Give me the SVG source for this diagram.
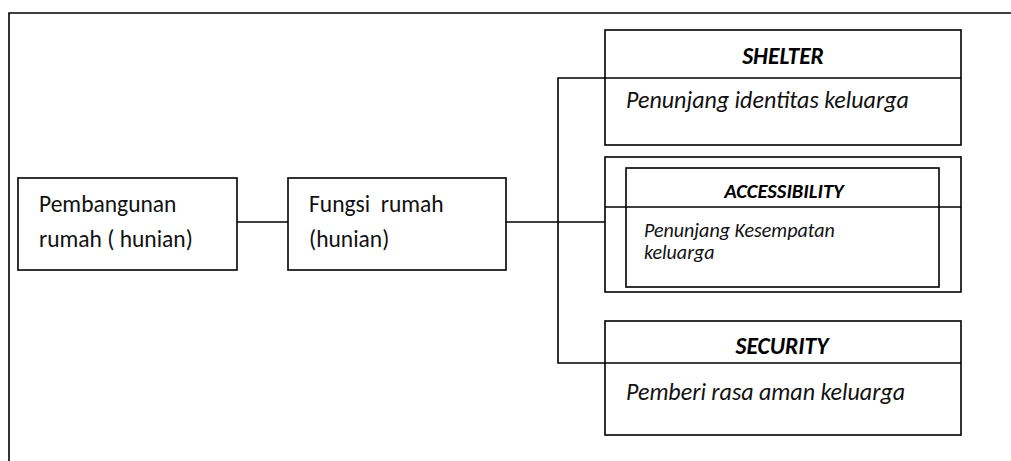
<svg xmlns="http://www.w3.org/2000/svg" width="1011" height="461" viewBox="0 0 1011 461">
  <style>
    .box { fill: none; stroke: #000; stroke-width: 1.6; }
    .ln { fill: none; stroke: #000; stroke-width: 1.6; }
    .t { font-family: Carlito, Lato, "Open Sans", sans-serif; font-size: 23.5px; fill: #111; }
    .b { font-family: Carlito, Lato, "Open Sans", sans-serif; font-size: 23.5px; font-style: italic; font-weight: bold; fill: #000; text-anchor: middle; }
    .bs { font-size: 20.5px; }
    .i { font-family: Carlito, Lato, "Open Sans", sans-serif; font-size: 24px; font-style: italic; fill: #111; }
    .is { font-size: 20px; }
  </style>
  <rect width="1011" height="461" fill="#fff"/>
  <path class="ln" d="M9,461 V13 H1011"/>
  <g id="connectors">
    <line class="ln" x1="237" y1="222" x2="288" y2="222"/>
    <line class="ln" x1="506" y1="222" x2="605" y2="222"/>
    <path class="ln" d="M605,78 H558 V363 H605"/>
  </g>
  <g id="pembangunan">
    <rect class="box" x="18" y="178" width="219" height="92"/>
    <text class="t" x="39" y="212">Pembangunan</text>
    <text class="t" x="39" y="247">rumah ( hunian)</text>
  </g>
  <g id="fungsi">
    <rect class="box" x="288" y="178" width="218" height="92"/>
    <text class="t" x="309" y="212" xml:space="preserve">Fungsi  rumah</text>
    <text class="t" x="309" y="247">(hunian)</text>
  </g>
  <g id="shelter">
    <rect class="box" x="605" y="30" width="356" height="115"/>
    <line class="ln" x1="605" y1="78" x2="961" y2="78"/>
    <text class="b" x="783" y="64">SHELTER</text>
    <text class="i" x="626" y="108">Penunjang identitas keluarga</text>
  </g>
  <g id="accessibility">
    <rect class="box" x="605" y="157" width="356" height="135"/>
    <rect class="box" x="626" y="168" width="313" height="119"/>
    <line class="ln" x1="605" y1="207" x2="961" y2="207"/>
    <text class="b bs" x="784" y="198">ACCESSIBILITY</text>
    <text class="i is" x="644" y="237">Penunjang Kesempatan</text>
    <text class="i is" x="644" y="259">keluarga</text>
  </g>
  <g id="security">
    <rect class="box" x="605" y="321" width="356" height="114"/>
    <line class="ln" x1="605" y1="363" x2="961" y2="363"/>
    <text class="b" x="782" y="354">SECURITY</text>
    <text class="i" x="626" y="400">Pemberi rasa aman keluarga</text>
  </g>
</svg>
